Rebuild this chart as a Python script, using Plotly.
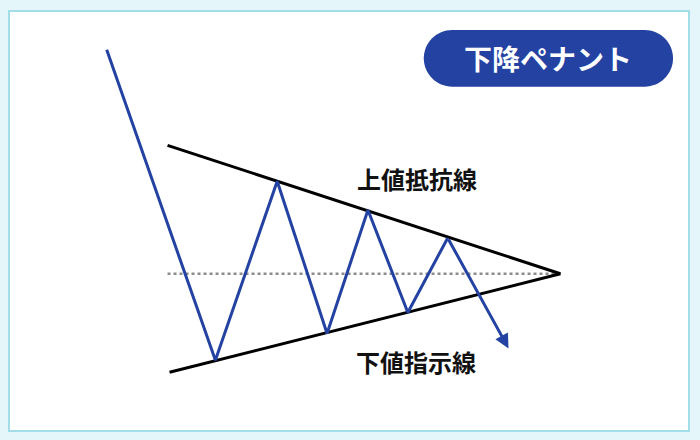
import plotly.graph_objects as go

# price wave of the pennant (x = time, y = price)
wave_x = [107, 216, 278, 328, 369, 409, 449, 510]
wave_y = [392, 80, 260, 107, 231, 128, 203, 92]

# resistance / support trend lines and the middle line
resist_x = [168, 562]
resist_y = [296, 167]
support_x = [170, 562]
support_y = [68, 167]
mid_x = [168, 562]
mid_y = [167, 167]

label_text = ['上値抵抗線', '下値指示線']
label_x = [418, 417]
label_y = [263, 79]

badge_text = '下降ペナント'

BLUE = '#2342a2'
FONT = 'Noto Sans CJK JP'


def pill_path(x0, x1, y0, y1):
    '''Rounded (pill) rectangle as an svg path, using bezier quarter arcs'''
    r = (y1 - y0) / 2
    k = 0.5523 * r
    return (f'M{x0 + r},{y0} L{x1 - r},{y0} '
            f'C{x1 - r + k},{y0} {x1},{y0 + r - k} {x1},{y0 + r} '
            f'C{x1},{y0 + r + k} {x1 - r + k},{y1} {x1 - r},{y1} '
            f'L{x0 + r},{y1} '
            f'C{x0 + r - k},{y1} {x0},{y0 + r + k} {x0},{y0 + r} '
            f'C{x0},{y0 + r - k} {x0 + r - k},{y0} {x0 + r},{y0} Z')


fig = go.Figure()

# dotted middle line
fig.add_trace(go.Scatter(x=mid_x, y=mid_y, mode='lines',
                         line=dict(color='#8c8c8c', width=2.5, dash='dot'),
                         hoverinfo='skip'))

# trend lines
fig.add_trace(go.Scatter(x=resist_x, y=resist_y, mode='lines',
                         line=dict(color='black', width=3), hoverinfo='skip'))
fig.add_trace(go.Scatter(x=support_x, y=support_y, mode='lines',
                         line=dict(color='black', width=3), hoverinfo='skip'))

# price wave (the last leg is drawn as an arrow below)
fig.add_trace(go.Scatter(x=wave_x[:-1], y=wave_y[:-1], mode='lines',
                         line=dict(color=BLUE, width=3), hoverinfo='skip'))

# last leg with a filled arrow head
fig.add_annotation(x=wave_x[-1], y=wave_y[-1], ax=wave_x[-2], ay=wave_y[-2],
                   xref='x', yref='y', axref='x', ayref='y', text='',
                   showarrow=True, arrowhead=2, arrowsize=0.95,
                   arrowwidth=3, arrowcolor=BLUE)

# line labels
for t, x, y in zip(label_text, label_x, label_y):
    fig.add_annotation(x=x, y=y, text=f'<b>{t}</b>', showarrow=False,
                       font=dict(family=FONT, size=24, color='#111111'))

# badge in the top right corner
fig.add_shape(type='path', path=pill_path(425, 675, 355, 412),
              fillcolor=BLUE, line_width=0, layer='below')
fig.add_annotation(x=550, y=384, text=f'<b>{badge_text}</b>', showarrow=False,
                   font=dict(family=FONT, size=28, color='white'))

fig.update_layout(
    width=700, height=440,
    margin=dict(l=10, r=10, t=10, b=10),
    paper_bgcolor='#e4f6fa',
    plot_bgcolor='white',
    showlegend=False,
)
fig.update_xaxes(range=[10, 690], visible=True, showgrid=False,
                 zeroline=False, showticklabels=False, ticks='',
                 showline=True, mirror=True, linecolor='#a3dde8',
                 linewidth=2)
fig.update_yaxes(range=[10, 430], visible=True, showgrid=False,
                 zeroline=False, showticklabels=False, ticks='',
                 showline=True, mirror=True, linecolor='#a3dde8',
                 linewidth=2)

# page margin off so the figure sits at the window corner
fig.write_html('out.html', config={'displayModeBar': False},
               post_script="document.body.style.margin='0';")
